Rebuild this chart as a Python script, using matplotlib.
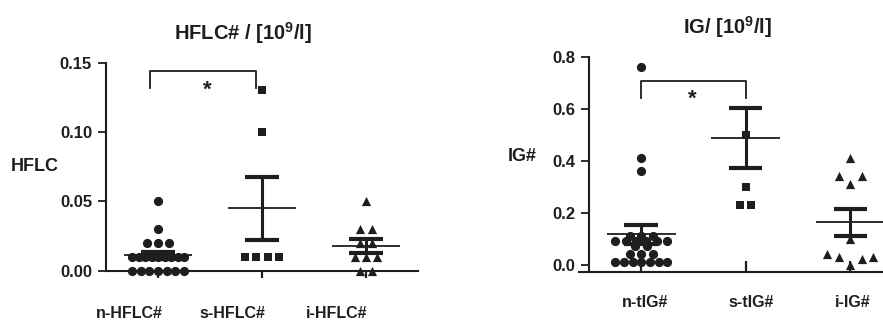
import numpy as np
import matplotlib
matplotlib.use("Agg")
import matplotlib.pyplot as plt

plt.rcParams['font.family'] = ['Liberation Sans', 'DejaVu Sans']
plt.rcParams['font.weight'] = 'bold'
plt.rcParams['axes.labelweight'] = 'bold'
plt.rcParams['mathtext.fontset'] = 'custom'
plt.rcParams['mathtext.rm'] = 'Liberation Sans:bold'
plt.rcParams['mathtext.default'] = 'rm'

INK = '#1e1e1e'

# ---- data ----
hflc_groups = ['n-HFLC#', 's-HFLC#', 'i-HFLC#']
n_hflc = [0.05, 0.03, 0.02, 0.02, 0.02] + [0.01] * 9 + [0.00] * 7
s_hflc = [0.13, 0.10, 0.01, 0.01, 0.01, 0.01]
i_hflc = [0.05, 0.03, 0.03, 0.02, 0.02, 0.01, 0.01, 0.01, 0.00, 0.00]
hflc_mean = [0.011, 0.045, 0.018]
hflc_sem = [0.0027, 0.0225, 0.0050]

ig_groups = ['n-tIG#', 's-tIG#', 'i-IG#']
n_ig = [0.76, 0.41, 0.36, 0.11, 0.11, 0.11] + [0.09] * 6 + [0.07, 0.07] + [0.04] * 3 + [0.01] * 7
s_ig = [0.50, 0.30, 0.23, 0.23]
i_ig = [0.41, 0.34, 0.31, 0.34, 0.10, 0.04, 0.03, 0.00, 0.02, 0.03]
ig_mean = [0.116, 0.487, 0.162]
ig_sem = [0.037, 0.115, 0.052]

markers = ['o', 's', '^']
msize = [44, 40, 44]


def swarm_x(vals, tol, step=0.11, maxw=0.5):
    vals = np.asarray(vals, dtype=float)
    order = np.argsort(vals, kind='stable')
    rows = []
    for idx in order:
        if rows and vals[idx] - vals[rows[-1][0]] <= tol:
            rows[-1].append(idx)
        else:
            rows.append([idx])
    off = np.zeros(len(vals))
    for r in rows:
        r = sorted(r)
        k = len(r)
        if k > 1:
            st = min(step, maxw / (k - 1))
            off[r] = (np.arange(k) - (k - 1) / 2) * st
    return off


def draw_group(ax, i, vals, tol, mean, sem):
    xo = swarm_x(vals, tol)
    ax.scatter(i + xo, vals, marker=markers[i], s=msize[i], color=INK, linewidths=0,
               zorder=3, clip_on=False)
    ax.hlines(mean, i - 0.33, i + 0.33, color=INK, lw=1.3, zorder=4)
    ax.vlines(i, mean - sem, mean + sem, color=INK, lw=2.2, zorder=4)
    ax.hlines([mean - sem, mean + sem], i - 0.16, i + 0.16, color=INK, lw=3, zorder=4)


fig = plt.figure(figsize=(8.83, 3.22), dpi=100)

# ---- left panel ----
ax1 = fig.add_axes([106 / 883, 1 - 270.7 / 322, 312 / 883, 208 / 322])
for i, vals in enumerate([n_hflc, s_hflc, i_hflc]):
    draw_group(ax1, i, vals, 0.004, hflc_mean[i], hflc_sem[i])
ax1.set_xlim(-0.5, 2.5)
ax1.set_ylim(0, 0.15)
ax1.set_yticks([0, 0.05, 0.10, 0.15])
ax1.set_yticklabels(['0.00', '0.05', '0.10', '0.15'])
ax1.set_xticks([0, 1, 2])
ax1.set_xticklabels([])
ax1.tick_params(axis='y', direction='out', length=6, width=1.3, labelsize=12, pad=4, colors=INK)
ax1.tick_params(axis='x', direction='out', length=5, width=1.6, colors=INK)
for lab, x in zip(hflc_groups, [0, 1, 2]):
    ax1.annotate(lab, xy=(x - 0.28, 0), xycoords=('data', 'axes fraction'),
                 xytext=(0, -31), textcoords='offset points',
                 ha='center', va='center', fontsize=11.5, color=INK)
ax1.set_ylabel('HFLC', rotation=0, fontsize=13, color=INK, ha='center', va='center')
ax1.yaxis.set_label_coords(-0.228, 0.5)
# significance bracket
ax1.plot([-0.08, -0.08, 0.94, 0.94], [0.132, 0.144, 0.144, 0.132], color=INK, lw=1.3, clip_on=False)
ax1.text(0.47, 0.130, '*', ha='center', va='center', fontsize=16, color=INK)
fig.text(0.275, 1 - 33 / 322, r'HFLC# / [10$^{9}$/l]', ha='center', va='center',
         fontsize=14.5, color=INK)

# ---- right panel ----
ax2 = fig.add_axes([578.5 / 883, 1 - 272.3 / 322, 324 / 883, 215.6 / 322])
for i, (vals, tol) in enumerate(zip([n_ig, s_ig, i_ig], [0.015, 0.015, 0.045])):
    draw_group(ax2, i, vals, tol, ig_mean[i], ig_sem[i])
ax2.set_xlim(-0.6, 2.5)
ax2.set_ylim(-0.03, 0.8)
ax2.spines['left'].set_position(('data', -0.5))
ax2.spines['left'].set_bounds(-0.03, 0.8)
ax2.set_yticks([0, 0.2, 0.4, 0.6, 0.8])
ax2.set_yticklabels(['0.0', '0.2', '0.4', '0.6', '0.8'])
ax2.set_xticks([0, 1, 2])
ax2.set_xticklabels([])
ax2.tick_params(axis='y', direction='out', length=6, width=1.3, labelsize=12, pad=4, colors=INK)
ax2.tick_params(axis='x', direction='in', length=8, width=1.6, colors=INK)
for lab, x in zip(ig_groups, [0.04, 1.05, 2.02]):
    ax2.annotate(lab, xy=(x, 0), xycoords=('data', 'axes fraction'),
                 xytext=(0, -22), textcoords='offset points',
                 ha='center', va='center', fontsize=11.5, color=INK)
ax2.set_ylabel('IG#', rotation=0, fontsize=13, color=INK, ha='center', va='center')
ax2.yaxis.set_label_coords(-0.174, 0.535)
ax2.plot([0, 0, 1.0, 1.0], [0.642, 0.706, 0.706, 0.642], color=INK, lw=1.3)
ax2.text(0.49, 0.638, '*', ha='center', va='center', fontsize=16, color=INK)
fig.text(0.824, 1 - 27 / 322, r'IG/ [10$^{9}$/l]', ha='center', va='center',
         fontsize=14.5, color=INK)

for ax in (ax1, ax2):
    ax.spines['top'].set_visible(False)
    ax.spines['right'].set_visible(False)
    for side in ('left', 'bottom'):
        ax.spines[side].set_linewidth(1.5)
        ax.spines[side].set_color(INK)
    for t in ax.get_yticklabels():
        t.set_fontweight('bold')

fig.savefig('out.png', dpi=100)
